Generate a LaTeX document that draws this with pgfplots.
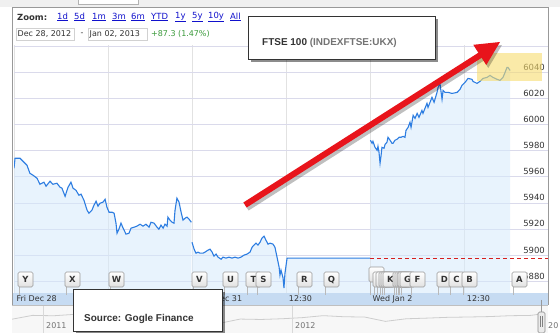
\documentclass[border=0pt]{standalone}
\usepackage{pgfplots}
\usepackage{pgfplotstable}
\pgfplotsset{compat=1.18}
\usepackage{fontspec}
\setmainfont{DejaVu Sans}
\newfontfamily\arialfont{Liberation Sans}
\definecolor{linec}{RGB}{45,125,225}
\definecolor{fillc}{RGB}{214,234,252}
\definecolor{gridh}{RGB}{218,218,235}
\definecolor{gridv}{RGB}{226,226,226}
\definecolor{bandc}{RGB}{198,219,242}
\definecolor{txt}{RGB}{51,51,51}
\definecolor{linkc}{RGB}{17,17,204}
\definecolor{greenc}{RGB}{58,154,58}
\definecolor{redarrow}{RGB}{232,20,27}
\definecolor{prevc}{RGB}{214,30,30}
\definecolor{yellowc}{RGB}{247,220,110}
\definecolor{navline}{RGB}{205,205,205}

% Fri Dec 28 (hours since 08:00, index level)
\pgfplotstableread{
h p
0.00 5966.6
0.05 5974.2
0.29 5974.2
0.62 5968.9
0.76 5962.7
0.91 5961.2
1.10 5958.9
1.24 5954.3
1.43 5955.9
1.53 5952.8
1.72 5956.6
1.86 5954.3
2.05 5955.1
2.20 5952.0
2.29 5951.3
2.44 5945.1
2.58 5952.0
2.72 5955.9
2.82 5951.3
2.96 5949.7
3.10 5945.9
3.20 5946.7
3.34 5942.1
3.49 5934.4
3.58 5932.1
3.72 5934.4
3.82 5938.3
3.92 5941.3
4.01 5937.5
4.11 5939.8
4.25 5940.6
4.35 5942.8
4.44 5936.7
4.54 5932.9
4.68 5932.9
4.78 5932.1
4.87 5924.5
4.92 5916.8
5.01 5919.9
5.11 5924.5
5.21 5920.7
5.35 5916.1
5.49 5916.8
5.59 5920.7
5.73 5921.4
5.87 5922.2
6.02 5923.7
6.16 5922.2
6.30 5923.7
6.45 5921.4
6.54 5925.2
6.69 5924.5
6.83 5921.4
6.92 5919.9
7.02 5923.0
7.12 5920.7
7.21 5923.7
7.31 5922.2
7.35 5929.1
7.45 5926.8
7.55 5925.2
7.64 5924.5
7.69 5934.4
7.78 5943.6
7.88 5940.6
7.98 5932.9
8.07 5926.8
8.17 5928.3
8.26 5929.1
8.36 5927.5
8.47 5925.2
}\decA

% Mon Dec 31 (half day, then flat at previous close)
\pgfplotstableread{
h p
8.50 5909.9
8.60 5904.6
8.69 5901.5
8.79 5902.3
8.88 5901.5
9.03 5901.5
9.12 5902.3
9.26 5903.8
9.36 5904.6
9.46 5902.3
9.55 5899.2
9.65 5900.8
9.74 5898.5
9.89 5896.9
9.98 5898.5
10.12 5897.7
10.27 5898.5
10.41 5897.7
10.55 5898.5
10.70 5897.7
10.84 5898.5
10.98 5900.0
11.13 5900.8
11.27 5902.3
11.37 5906.1
11.46 5907.7
11.56 5909.2
11.65 5907.7
11.75 5909.9
11.84 5913.0
11.94 5914.5
12.03 5911.5
12.13 5908.4
12.23 5909.2
12.37 5908.4
12.46 5906.1
12.56 5898.5
12.66 5890.8
12.70 5884.7
12.75 5888.5
12.85 5882.4
12.89 5874.8
12.94 5886.2
13.04 5897.7
17.00 5897.7
}\decB

% Wed Jan 2
\pgfplotstableread{
h p
17.02 5988.0
17.10 5985.7
17.14 5987.2
17.24 5982.6
17.34 5980.3
17.38 5983.4
17.43 5978.8
17.48 5970.4
17.53 5976.5
17.57 5982.6
17.67 5981.9
17.72 5984.9
17.81 5986.5
17.86 5990.3
17.96 5988.0
18.05 5985.7
18.10 5985.7
18.19 5988.0
18.29 5988.8
18.39 5990.3
18.48 5990.3
18.58 5991.0
18.67 5990.3
18.72 5995.6
18.82 5997.9
18.91 6001.8
18.96 5997.9
19.06 6007.1
19.15 6004.8
19.25 6008.6
19.34 6005.6
19.48 6010.9
19.53 6008.6
19.72 6016.3
19.77 6013.2
19.96 6020.9
20.06 6017.1
20.20 6024.7
20.25 6028.5
20.34 6031.6
20.44 6019.4
20.49 6026.2
20.58 6024.7
20.73 6024.7
20.92 6023.9
21.16 6024.7
21.30 6027.0
21.39 6030.1
21.54 6032.4
21.68 6035.4
21.87 6034.7
21.92 6033.1
22.11 6031.6
22.25 6033.1
22.40 6035.4
22.59 6036.2
22.73 6037.7
22.87 6036.2
23.07 6034.7
23.21 6033.9
23.35 6036.2
23.45 6040.0
23.54 6043.8
23.59 6043.8
23.69 6041.5
}\decC

% navigator (monthly levels)
\pgfplotstableread{
t v
2010.875 5528
2010.958 5900
2011.042 5863
2011.125 5994
2011.208 5909
2011.292 6070
2011.375 5990
2011.458 5945
2011.542 5815
2011.625 5395
2011.708 5128
2011.792 5544
2011.875 5505
2011.958 5572
2012.042 5682
2012.125 5872
2012.208 5768
2012.292 5737
2012.375 5321
2012.458 5571
2012.542 5635
2012.625 5711
2012.708 5742
2012.792 5783
2012.875 5867
2012.958 5898
2013.003 6040
}\nav

\newcommand{\flag}[3]{%
  \draw[gray!55, line width=0.5bp] (#1+1,#2+15) -- (#1+1,295);
  \shade[top color=white, bottom color=black!12, draw=black!40, line width=0.6bp, rounded corners=1.5bp]
     (#1,#2) rectangle (#1+15,#2+15);
  \node[text=txt, inner sep=0pt, font=\bfseries\fontsize{8.5}{9}\selectfont] at (#1+7.5,#2+7.8) {#3};
}

\begin{document}
\begin{tikzpicture}
% canvas
\fill[white] (0,0) rectangle (560bp,333bp);
\useasboundingbox (0,0) rectangle (560bp,333bp);

\begin{scope}[x=1bp,y=-1bp,yshift=333bp]
  \fill[black!6] (0,0) rectangle (560,7);
  \draw[black!30, fill=white] (78,-2) rectangle (138,4);
  % navigator background
  \fill[black!3] (12,305) rectangle (548,333);
  % time band
  \fill[bandc] (12,293) rectangle (548,305);
\end{scope}

% main chart
\begin{axis}[
  at={(14bp,40bp)}, anchor=south west,
  scale only axis, width=534bp, height=248bp,
  xmin=0, xmax=25.5, ymin=5871, ymax=6061,
  axis line style={draw=none},
  major tick length=0pt,
  xtick={0,4.5,8.5,13,17,21.5},
  xticklabels={Fri Dec 28,12:30,Mon Dec 31,12:30,Wed Jan 2,12:30},
  xticklabel style={anchor=west, inner sep=0pt, xshift=2.5bp, yshift=-6bp,
      font=\fontsize{8}{9}\selectfont, text=txt},
  ytick={5880,5900,5920,5940,5960,5980,6000,6020,6040,6060},
  yticklabels={5880,5900,5920,5940,5960,5980,6000,6020,6040,{}},
  yticklabel pos=right,
  yticklabel style={anchor=south east, inner sep=0pt, xshift=-3bp, yshift=1.8bp,
      font=\fontsize{8.5}{9}\selectfont, text=txt},
  grid=major,
  x grid style={gridv, line width=0.8bp},
  y grid style={gridh, line width=0.8bp},
]
\addplot[draw=none, fill=fillc, fill opacity=0.55] table[x=h,y=p] {\decA} \closedcycle;
\addplot[draw=none, fill=fillc, fill opacity=0.55] table[x=h,y=p] {\decB} \closedcycle;
\addplot[draw=none, fill=fillc, fill opacity=0.55] table[x=h,y=p] {\decC} \closedcycle;
\addplot[prevc, line width=1bp, dash pattern=on 4bp off 3bp] coordinates {(17,5897.7) (25.5,5897.7)};
\addplot[linec, line width=1.1bp] table[x=h,y=p] {\decA};
\addplot[linec, line width=1.1bp] table[x=h,y=p] {\decB};
\addplot[linec, line width=1.1bp] table[x=h,y=p] {\decC};
\end{axis}

% navigator
\begin{axis}[
  at={(12bp,0bp)}, anchor=south west,
  scale only axis, width=536bp, height=28bp,
  xmin=2010.8755, xmax=2013.028, ymin=4200, ymax=6900,
  hide axis,
]
\addplot[navline, line width=0.8bp] table[x=t,y=v] {\nav};
\draw[black!15, line width=0.6bp] (axis cs:2011,4200) -- (axis cs:2011,6900);
\draw[black!15, line width=0.6bp] (axis cs:2012,4200) -- (axis cs:2012,6900);
\end{axis}

\begin{scope}[x=1bp,y=-1bp,yshift=333bp]
  % widget border
  \draw[black!40, line width=0.8bp] (12,305) -- (12,7) -- (548,7) -- (548,305);
  \draw[black!25, line width=0.6bp] (12,305) -- (548,305);
  % navigator labels and handle
  \node[anchor=west, inner sep=0pt, text=black!55, font=\fontsize{8}{9}\selectfont] at (46,326) {2011};
  \node[anchor=west, inner sep=0pt, text=black!55, font=\fontsize{8}{9}\selectfont] at (295,326) {2012};
  \node[anchor=west, inner sep=0pt, text=black!55, font=\fontsize{8}{9}\selectfont] at (548,326) {20};
  \draw[black!45, fill=black!8, rounded corners=1.5bp, line width=0.6bp] (538,312) rectangle (545,333);
  \draw[black!50, line width=0.5bp] (540.5,316) -- (540.5,327) (542.5,316) -- (542.5,327);
  \draw[black!40, line width=0.6bp] (541.5,300) -- (541.5,312);

  % news flags (the crowded ones on Jan 2 hide each other's letters)
  \flag{18}{272}{Y}
  \flag{65}{272}{X}
  \flag{109}{272}{W}
  \flag{192}{272}{V}
  \flag{223}{272}{U}
  \flag{246}{272}{T}
  \flag{256}{272}{S}
  \flag{297}{272}{R}
  \flag{324}{272}{Q}
  \flag{369}{267}{}
  \flag{373}{272}{}
  \flag{376}{272}{}
  \flag{379}{272}{}
  \flag{381}{272}{}
  \flag{383}{272}{K}
  \flag{393}{272}{}
  \flag{395}{272}{}
  \flag{397}{272}{}
  \flag{398}{272}{}
  \flag{400}{272}{G}
  \flag{410}{272}{F}
  \flag{437}{272}{D}
  \flag{449}{272}{C}
  \flag{462}{272}{B}
  \flag{512}{272}{A}

  % latest-value highlight
  \fill[yellowc, opacity=0.6] (477,53) rectangle (542,81);

  % zoom controls
  \node[anchor=west, inner sep=0pt, text=txt, font=\bfseries\fontsize{8.5}{10}\selectfont] at (17,17) {Zoom:};
  \begin{scope}[every node/.style={anchor=west, inner sep=0pt, text=linkc, font=\fontsize{8.5}{10}\selectfont}]
    \node at (57,17) {\underline{1d}};
    \node at (74,17) {\underline{5d}};
    \node at (92,17) {\underline{1m}};
    \node at (112,17) {\underline{3m}};
    \node at (131,17) {\underline{6m}};
    \node at (151,17) {\underline{YTD}};
    \node at (175,17) {\underline{1y}};
    \node at (192,17) {\underline{5y}};
    \node at (208,17) {\underline{10y}};
    \node at (230,17) {\underline{All}};
  \end{scope}
  \draw[black!18, fill=white, line width=0.6bp] (16,28) rectangle (74,40);
  \draw[black!18, fill=white, line width=0.6bp] (88,28) rectangle (147,40);
  \node[anchor=west, inner sep=0pt, text=txt, font=\fontsize{8}{9}\selectfont] at (17.5,34) {Dec 28, 2012};
  \node[inner sep=0pt, text=txt, font=\fontsize{8}{9}\selectfont] at (82,34) {-};
  \node[anchor=west, inner sep=0pt, text=txt, font=\fontsize{8}{9}\selectfont] at (89.5,34) {Jan 02, 2013};
  \node[anchor=west, inner sep=0pt, text=greenc, font=\fontsize{8}{9}\selectfont] at (151,34) {+87.3 (1.47\%)};

  % red arrow
  \begin{scope}[shift={(2,3)}]
    \draw[black, opacity=0.25, line width=6bp] (245,205) -- (482,54);
    \fill[black, opacity=0.25] (500,42) -- (486.3,65.0) -- (473.3,44.8) -- cycle;
  \end{scope}
  \draw[redarrow, line width=6bp] (245,205) -- (482,54);
  \fill[redarrow] (500,42) -- (486.3,65.0) -- (473.3,44.8) -- cycle;

  % title box
  \fill[black, opacity=0.45] (251,19) rectangle (438,62);
  \draw[black!80, fill=white, line width=0.9bp] (248,16) rectangle (435,59);
  \node[anchor=west, inner sep=0pt, font=\arialfont\bfseries\fontsize{10}{12}\selectfont] at (262,43)
     {\textcolor{txt}{FTSE 100} \textcolor{black!55}{(INDEXFTSE:UKX)}};

  % source box
  \fill[black, opacity=0.45] (76,292) rectangle (225,334);
  \draw[black!80, fill=white, line width=0.9bp] (73,289) rectangle (222,331);
  \node[anchor=west, inner sep=0pt, text=txt, font=\arialfont\bfseries\fontsize{10}{12}\selectfont] at (84,319) {Source: Gogle Finance};
\end{scope}
\end{tikzpicture}
\end{document}
